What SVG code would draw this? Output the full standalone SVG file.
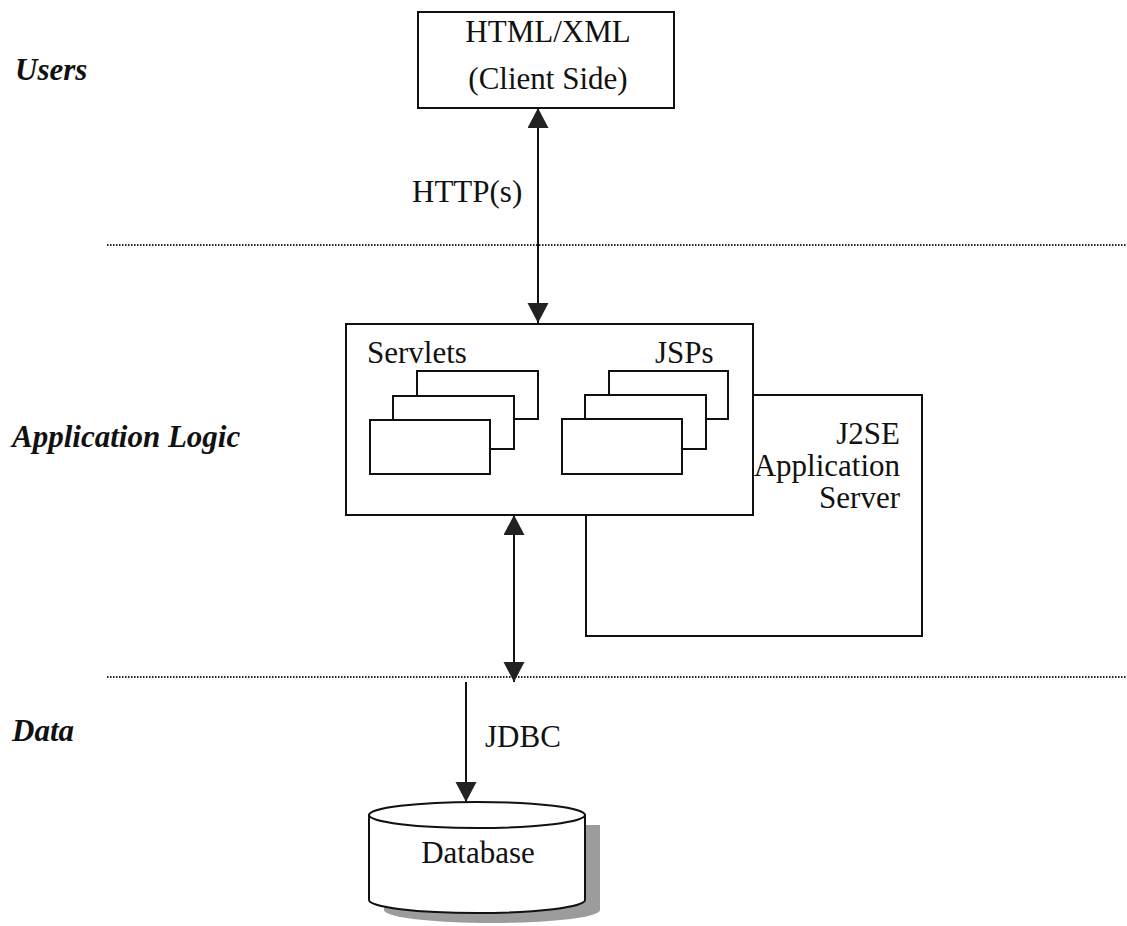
<svg xmlns="http://www.w3.org/2000/svg" width="1127" height="926" viewBox="0 0 1127 926">
  <style>
    .box { fill: #fff; stroke: #111; stroke-width: 2; }
    .lbl { font-family: "Liberation Serif", "Times New Roman", serif; font-size: 31px; fill: #111; }
    .tier { font-family: "Liberation Serif", "Times New Roman", serif; font-size: 31px; font-weight: bold; font-style: italic; fill: #111; }
    .sep { stroke: #222; stroke-width: 2; stroke-dasharray: 1.5 1.5; fill: none; }
    .link { stroke: #111; stroke-width: 2; fill: none; }
  </style>
  <defs>
    <marker id="head" markerUnits="userSpaceOnUse" markerWidth="22" markerHeight="22" refX="20" refY="10.5" orient="auto-start-reverse">
      <path d="M0,0 L20,10.5 L0,21 Z" fill="#222"/>
    </marker>
  </defs>

  <rect width="1127" height="926" fill="#fff"/>

  <!-- tier separators -->
  <g id="separators">
    <line class="sep" x1="107" y1="245" x2="1127" y2="245"/>
    <line class="sep" x1="107" y1="677" x2="1127" y2="677"/>
  </g>

  <!-- tier names -->
  <g id="tiers">
    <text class="tier" x="15" y="80">Users</text>
    <text class="tier" x="12" y="447">Application Logic</text>
    <text class="tier" x="12" y="741">Data</text>
  </g>

  <!-- client -->
  <g id="client">
    <rect class="box" x="418" y="12" width="256" height="96"/>
    <text class="lbl" x="548" y="42" text-anchor="middle">HTML/XML</text>
    <text class="lbl" x="548" y="89" text-anchor="middle">(Client Side)</text>
  </g>

  <!-- application server -->
  <g id="app-server">
    <rect class="box" x="586" y="395" width="336" height="241"/>
  </g>

  <!-- web container holding servlets and JSPs -->
  <g id="web-container">
    <rect class="box" x="346" y="324" width="407" height="191"/>
    <text class="lbl" x="367" y="363">Servlets</text>
    <text class="lbl" x="655" y="363">JSPs</text>
  </g>

  <g id="servlets">
    <rect class="box" x="417" y="371" width="121" height="48"/>
    <rect class="box" x="393" y="396" width="121" height="53"/>
    <rect class="box" x="370" y="420" width="120" height="54"/>
  </g>

  <g id="jsps">
    <rect class="box" x="609" y="371" width="119" height="48"/>
    <rect class="box" x="585" y="395" width="121" height="54"/>
    <rect class="box" x="562" y="419" width="120" height="55"/>
  </g>

  <g id="app-server-label">
    <text class="lbl" x="900" y="444" text-anchor="end">J2SE</text>
    <text class="lbl" x="900" y="476" text-anchor="end">Application</text>
    <text class="lbl" x="900" y="508" text-anchor="end">Server</text>
  </g>

  <!-- database -->
  <g id="database">
    <path d="M369,815 V900 A108,13 0 0 0 585,900 V815 Z" fill="#9c9c9c" transform="translate(15,10)"/>
    <path class="box" d="M369,815 V900 A108,13 0 0 0 585,900 V815 Z"/>
    <ellipse class="box" cx="477" cy="815" rx="108" ry="13"/>
    <text class="lbl" x="478" y="863" text-anchor="middle">Database</text>
  </g>

  <!-- connectors -->
  <g id="connectors">
    <line class="link" x1="538" y1="108" x2="538" y2="323" marker-start="url(#head)" marker-end="url(#head)"/>
    <line class="link" x1="514" y1="515" x2="514" y2="682" marker-start="url(#head)" marker-end="url(#head)"/>
    <line class="link" x1="466" y1="682" x2="466" y2="802" marker-end="url(#head)"/>
    <text class="lbl" x="412" y="202">HTTP(s)</text>
    <text class="lbl" x="485" y="747">JDBC</text>
  </g>
</svg>
